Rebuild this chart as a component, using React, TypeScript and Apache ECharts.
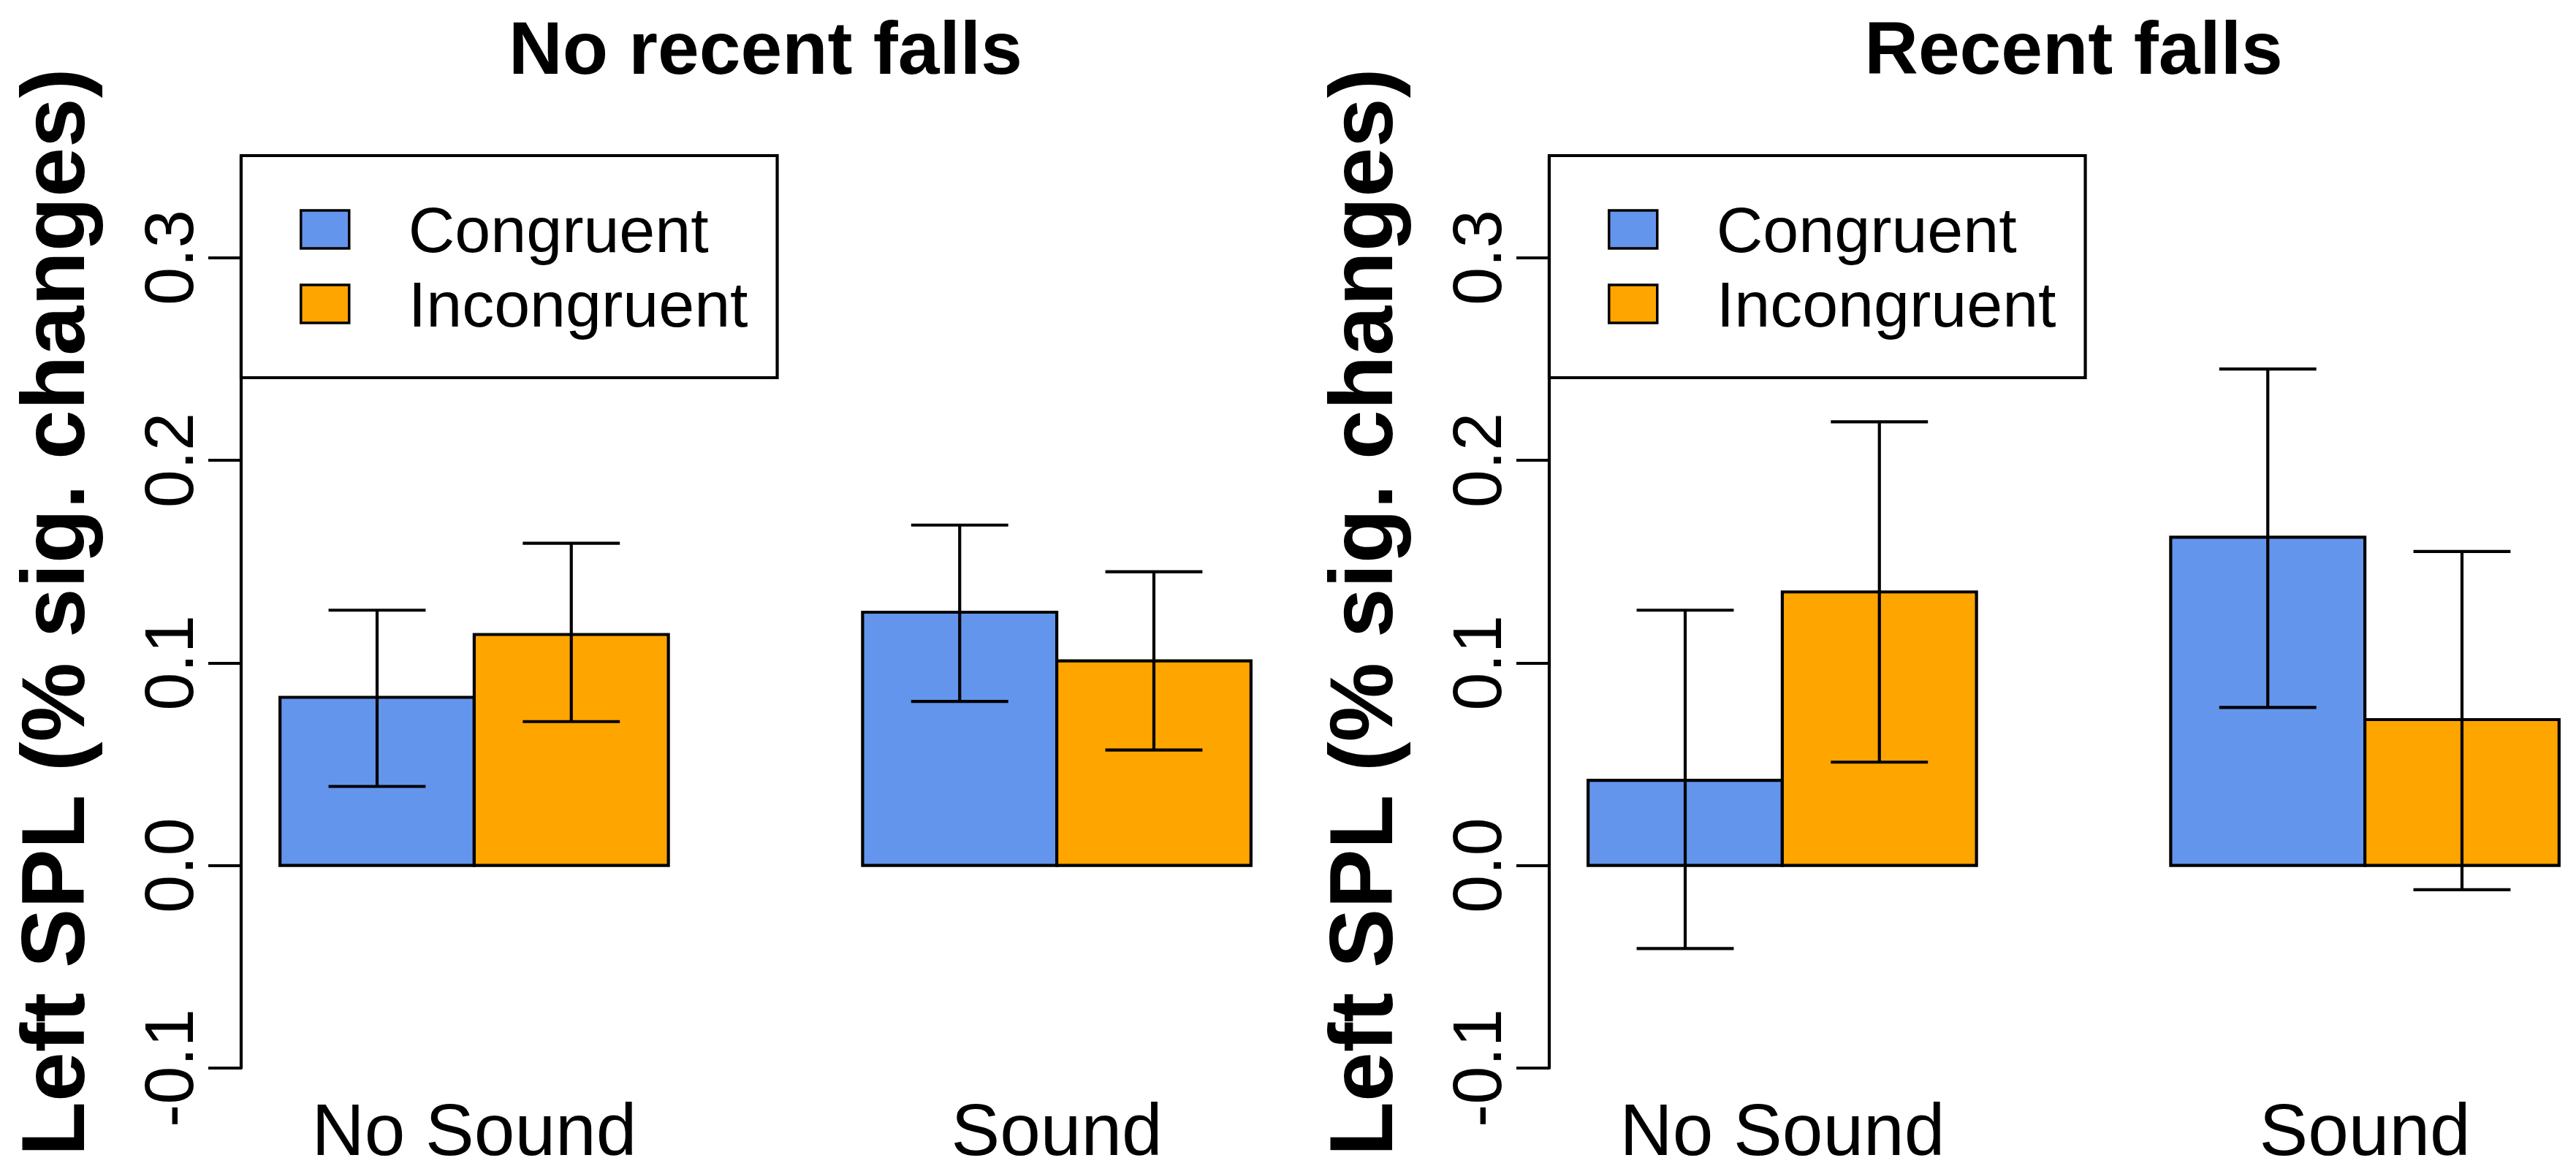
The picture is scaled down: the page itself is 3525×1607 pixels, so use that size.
import React, { useEffect, useRef } from "react";
import * as echarts from "echarts";

// ---- data ----
const groups = ["No Sound", "Sound"];
const conditions = ["Congruent", "Incongruent"];
const panelTitles = ["No recent falls", "Recent falls"];
const conditionColors = ["#6495ED", "#FFA500"];
const yTicks = [-0.1, 0.0, 0.1, 0.2, 0.3];

// panel 1: No recent falls
const noFallsCongruent = [0.083, 0.125];
const noFallsIncongruent = [0.114, 0.101];
const noFallsCongruentLow = [0.039, 0.081];
const noFallsCongruentHigh = [0.126, 0.168];
const noFallsIncongruentLow = [0.071, 0.057];
const noFallsIncongruentHigh = [0.159, 0.145];

// panel 2: Recent falls
const fallsCongruent = [0.042, 0.162];
const fallsIncongruent = [0.135, 0.072];
const fallsCongruentLow = [-0.041, 0.078];
const fallsCongruentHigh = [0.126, 0.245];
const fallsIncongruentLow = [0.051, -0.012];
const fallsIncongruentHigh = [0.219, 0.155];

const panels = [
  {
    title: panelTitles[0],
    means: [noFallsCongruent, noFallsIncongruent],
    lows: [noFallsCongruentLow, noFallsIncongruentLow],
    highs: [noFallsCongruentHigh, noFallsIncongruentHigh],
  },
  {
    title: panelTitles[1],
    means: [fallsCongruent, fallsIncongruent],
    lows: [fallsCongruentLow, fallsIncongruentLow],
    highs: [fallsCongruentHigh, fallsIncongruentHigh],
  },
];

const FONT = "'Liberation Sans', Arial, Helvetica, sans-serif";
const W = 3525;
const H = 1607;
const GRID_LEFT = [330, 2120];
const GRID_TOP = 214;
const GRID_W = 1435; // full R plot-region width (0.8 .. 6.2 bar units)
const GRID_H = 1248;
const LW = 4.2;
const X_MIN = 0.8;
const X_MAX = 6.2;

// R barplot(beside=TRUE, space=c(0,1)) layout in bar-width units
const barLeft = (g: number, c: number) => 1 + g * 3 + c;
const groupCenter = (g: number) => 1 + g * 3 + conditions.length / 2;

export default function App() {
  const ref = useRef<HTMLDivElement>(null);

  useEffect(() => {
    if (!ref.current) return;
    const chart = echarts.init(ref.current, null, { renderer: "svg", width: W, height: H });

    const grids: any[] = [];
    const xAxes: any[] = [];
    const yAxes: any[] = [];
    const series: any[] = [];
    const titles: any[] = [];
    const legends: any[] = [];

    panels.forEach((p, pi) => {
      // the right panel is cut off by the image edge: keep the same scale, shorter range
      const visW = Math.min(GRID_W, W - GRID_LEFT[pi]);
      const xMax = X_MIN + (X_MAX - X_MIN) * (visW / GRID_W);
      grids.push({ left: GRID_LEFT[pi], top: GRID_TOP, width: visW, height: GRID_H, containLabel: false });
      xAxes.push({
        type: "value",
        gridIndex: pi,
        min: X_MIN,
        max: xMax,
        axisLine: { show: false },
        axisTick: { show: false },
        splitLine: { show: false },
        axisLabel: {
          customValues: groups.map((_, g) => groupCenter(g)),
          formatter: (v: number) => {
            const g = groups.findIndex((_, i) => Math.abs(groupCenter(i) - v) < 1e-6);
            return g >= 0 ? groups[g] : "";
          },
          fontSize: 100,
          fontFamily: FONT,
          color: "#000",
          margin: 84,
          verticalAlign: "middle",
        },
      });
      yAxes.push({
        type: "value",
        gridIndex: pi,
        min: -0.1,
        max: 0.35,
        name: "Left SPL (% sig. changes)",
        nameLocation: "middle",
        nameRotate: 90,
        nameGap: 196,
        nameTextStyle: { fontSize: 122, fontWeight: "bold", fontFamily: FONT, color: "#000" },
        axisLine: { show: true, lineStyle: { color: "#000", width: LW } },
        axisTick: {
          show: true,
          length: 45,
          customValues: yTicks,
          lineStyle: { color: "#000", width: LW },
        },
        splitLine: { show: false },
        axisLabel: {
          customValues: yTicks,
          rotate: 90,
          margin: 52,
          fontSize: 94,
          fontFamily: FONT,
          color: "#000",
          formatter: (v: number) => v.toFixed(1),
        },
      });
      titles.push({
        text: p.title,
        left: GRID_LEFT[pi] + GRID_W / 2,
        top: 66,
        textAlign: "center",
        textVerticalAlign: "middle",
        padding: 0,
        textStyle: { fontSize: 102, fontWeight: "bold", fontFamily: FONT, color: "#000" },
      });
      legends.push({
        orient: "vertical",
        left: GRID_LEFT[pi],
        top: GRID_TOP - 1,
        padding: [57, 40, 57, 80],
        itemWidth: 66,
        itemHeight: 52,
        itemGap: 14,
        borderColor: "#000",
        borderWidth: LW,
        borderRadius: 0,
        backgroundColor: "#fff",
        selectedMode: false,
        textStyle: { fontSize: 88, fontFamily: FONT, color: "#000", padding: [0, 0, 0, 76] },
        data: conditions.map((c, ci) => ({
          name: c,
          icon: "rect",
          itemStyle: { color: conditionColors[ci], borderColor: "#000", borderWidth: 3.5 },
        })),
      });

      conditions.forEach((cond, ci) => {
        const barData = groups.map((_, g) => [barLeft(g, ci), barLeft(g, ci) + 1, p.means[ci][g]]);
        series.push({
          type: "custom",
          name: cond,
          xAxisIndex: pi,
          yAxisIndex: pi,
          data: barData,
          encode: { x: [0, 1], y: 2 },
          itemStyle: { color: conditionColors[ci] },
          z: 2,
          renderItem: (_params: any, api: any) => {
            const p0 = api.coord([api.value(0), 0]);
            const p1 = api.coord([api.value(1), api.value(2)]);
            return {
              type: "rect",
              shape: {
                x: p0[0],
                y: Math.min(p0[1], p1[1]),
                width: p1[0] - p0[0],
                height: Math.abs(p1[1] - p0[1]),
              },
              style: { fill: conditionColors[ci], stroke: "#000", lineWidth: LW },
            };
          },
        });
        const errData = groups.map((_, g) => [barLeft(g, ci) + 0.5, p.lows[ci][g], p.highs[ci][g]]);
        series.push({
          type: "custom",
          name: cond + " error",
          xAxisIndex: pi,
          yAxisIndex: pi,
          data: errData,
          encode: { x: 0, y: [1, 2] },
          z: 3,
          renderItem: (_params: any, api: any) => {
            const xc = api.value(0);
            const lo = api.value(1);
            const hi = api.value(2);
            const top = api.coord([xc, hi]);
            const bot = api.coord([xc, lo]);
            const capL = api.coord([xc - 0.25, hi])[0];
            const capR = api.coord([xc + 0.25, hi])[0];
            const st = { stroke: "#000", lineWidth: LW, fill: "none" };
            return {
              type: "group",
              children: [
                { type: "line", shape: { x1: top[0], y1: top[1], x2: bot[0], y2: bot[1] }, style: st },
                { type: "line", shape: { x1: capL, y1: top[1], x2: capR, y2: top[1] }, style: st },
                { type: "line", shape: { x1: capL, y1: bot[1], x2: capR, y2: bot[1] }, style: st },
              ],
            };
          },
        });
      });
    });

    chart.setOption({
      animation: false,
      backgroundColor: "#fff",
      title: titles,
      legend: legends,
      grid: grids,
      xAxis: xAxes,
      yAxis: yAxes,
      series,
    });

    return () => chart.dispose();
  }, []);

  return (
    <div
      ref={ref}
      style={{ position: "absolute", left: 0, top: 0, width: W, height: H, background: "#fff" }}
    />
  );
}
